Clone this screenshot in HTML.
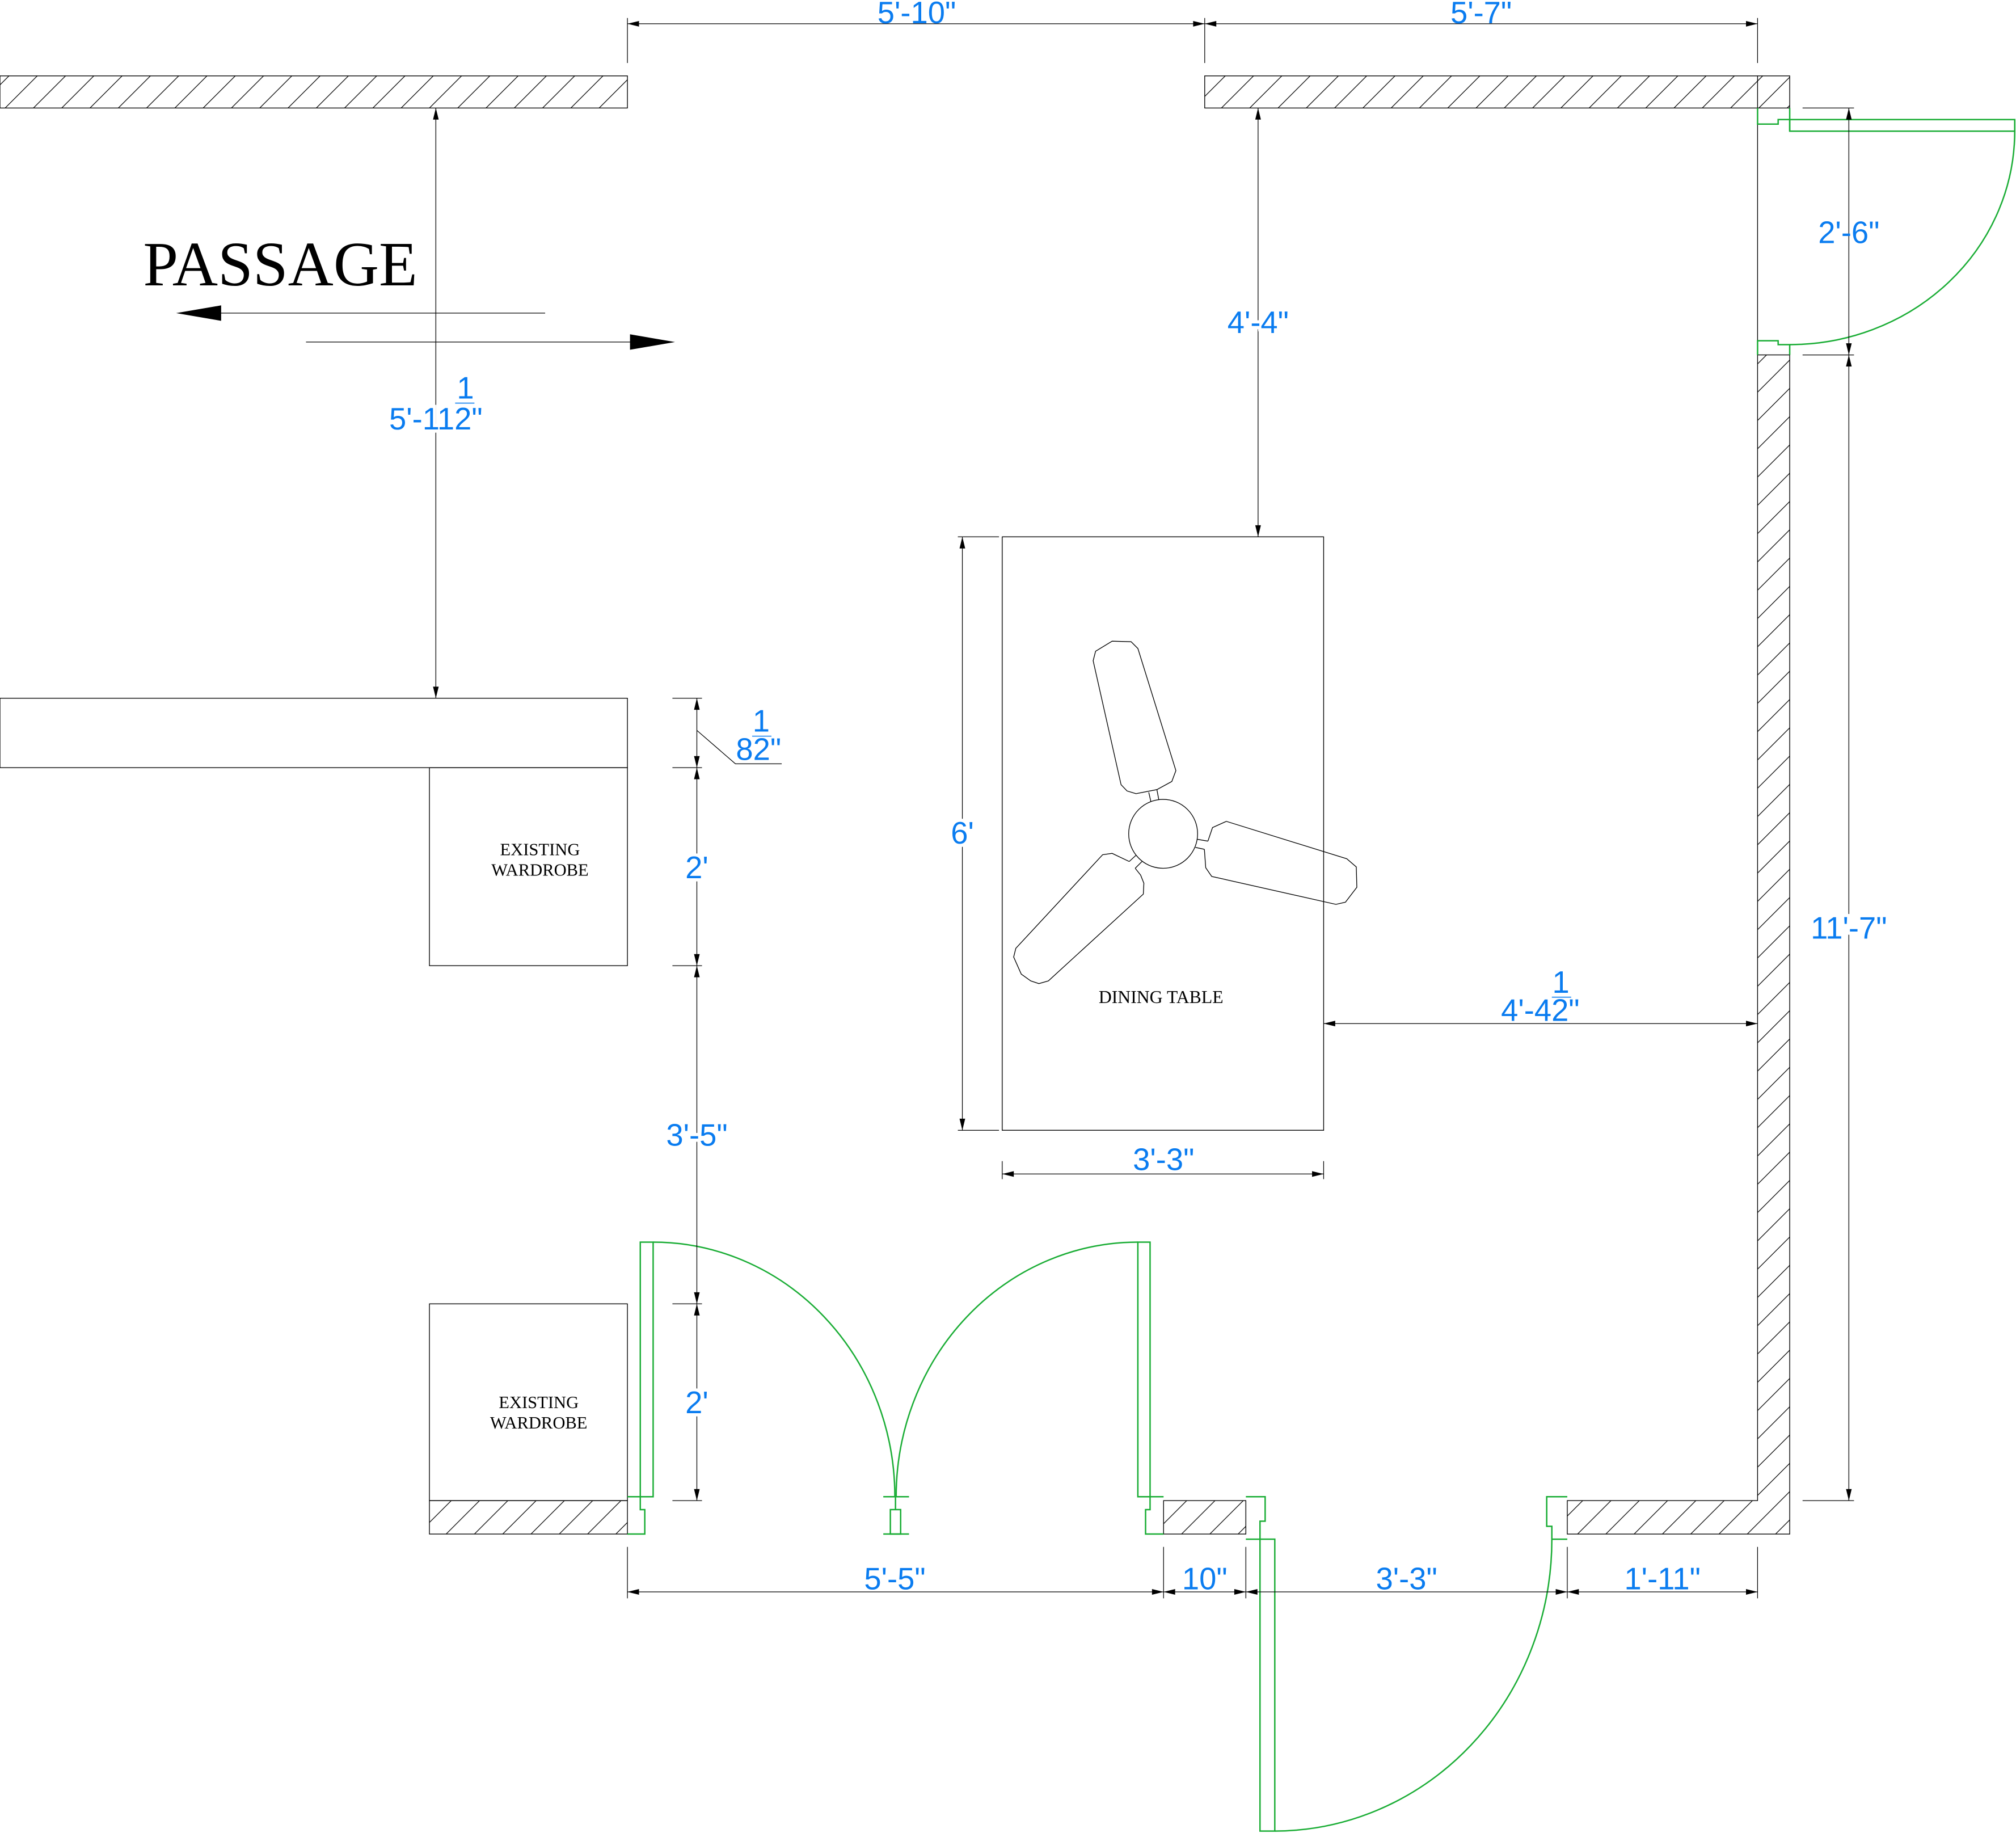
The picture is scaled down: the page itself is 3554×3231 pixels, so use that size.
<!DOCTYPE html>
<html><head><meta charset="utf-8">
<style>
html,body{margin:0;padding:0;background:#fff;}
svg{display:block;}
.k{stroke:#000;stroke-width:0.6;fill:none;}
.hh{fill:url(#h);}
.g{stroke:#1aad35;stroke-width:1.1;fill:none;}
.d{stroke:#000;stroke-width:0.55;fill:none;}
.t{font-family:"Liberation Sans",Arial,sans-serif;font-size:24px;fill:#0a7cf0;text-anchor:middle;stroke:#fff;stroke-width:5;paint-order:stroke;}
.s{font-family:"Liberation Serif","Times New Roman",serif;fill:#000;text-anchor:middle;}
</style></head>
<body>
<svg width="3554" height="3231" viewBox="0 0 1568 1425.5" preserveAspectRatio="none" xmlns="http://www.w3.org/2000/svg">
<defs>
<pattern id="h" patternUnits="userSpaceOnUse" width="22" height="22">
<path d="M-2,24 L24,-2 M-2,2 L2,-2 M20,24 L24,20" stroke="#000" stroke-width="0.55"/>
</pattern>
<marker id="a" markerUnits="userSpaceOnUse" markerWidth="12" markerHeight="8" refX="0" refY="0" viewBox="-10 -4 12 8" orient="auto-start-reverse">
<path d="M0,0 L-9,-2.2 L-9,2.2 Z" fill="#000"/>
</marker>
</defs>
<rect width="1568" height="1425.5" fill="#fff"/>

<!-- walls -->
<rect x="0" y="59" width="488" height="25" class="k hh"/>
<rect x="937" y="59" width="455" height="25" class="k hh"/>
<line x1="1367" y1="59" x2="1367" y2="84" class="k"/>
<line x1="1367" y1="84" x2="1367" y2="276" class="k"/>
<path d="M1367,276 L1392,276 L1392,1193 L1219,1193 L1219,1167 L1367,1167 Z" class="k hh"/>
<rect x="905" y="1167" width="64" height="26" class="k hh"/>
<rect x="334" y="1167" width="154" height="26" class="k hh"/>

<!-- furniture -->
<rect x="0" y="543" width="488" height="54" class="k"/>
<rect x="334" y="597" width="154" height="154" class="k"/>
<rect x="334" y="1014" width="154" height="153" class="k"/>
<rect x="779.5" y="417.5" width="250" height="461.5" class="k"/>
<text class="s" x="420" y="665" font-size="13.5">EXISTING</text>
<text class="s" x="420" y="681" font-size="13.5">WARDROBE</text>
<text class="s" x="419" y="1095" font-size="13.5">EXISTING</text>
<text class="s" x="419" y="1111" font-size="13.5">WARDROBE</text>
<text class="s" x="903" y="780" font-size="14">DINING TABLE</text>

<!-- fan -->
<g transform="matrix(0.211,0,0,0.211,750,463.2)" fill="none" stroke="#000" stroke-width="2.8">
<circle cx="733" cy="878" r="127"/>
<path d="M484,205 L545,168 L615,170 L640,195 L780,645 L765,685 L710,715 L633,730 L600,720 L578,697 L475,240 Z"/>
<path d="M680,725 L688,760 M710,715 L717,752"/>
<path d="M898,905 L915,855 L966,832 L1410,970 L1445,1000 L1447,1075 L1405,1130 L1370,1138 L912,1035 L890,1003 L885,935"/>
<path d="M858,898 L898,905 M852,928 L885,935"/>
<path d="M608,980 L545,950 L510,955 L190,1300 L182,1332 L210,1395 L245,1420 L275,1430 L310,1420 L660,1100 L662,1060 L650,1030 L630,1005"/>
<path d="M608,980 L633,957 M630,1005 L655,980"/>
</g>

<!-- PASSAGE -->
<text class="s" x="218" y="222" font-size="49">PASSAGE</text>
<line x1="170" y1="243.5" x2="424" y2="243.5" class="d"/>
<path d="M137,243.5 L172,237.5 L172,249.5 Z" fill="#000"/>
<line x1="238" y1="266" x2="492" y2="266" class="d"/>
<path d="M525,266 L490,260 L490,272 Z" fill="#000"/>

<!-- doors -->
<g class="g">
<path d="M1367,84 L1367,96.5 L1383,96.5 L1383,93 L1392,93 M1392,84 L1392,102"/>
<rect x="1392" y="93" width="175" height="9"/>
<path d="M1567,102 A175,166 0 0 1 1392,268"/>
<path d="M1367,276 L1367,265 L1383,265 L1383,268 L1392,268 L1392,276"/>
<rect x="498" y="966" width="10" height="198"/>
<path d="M488,1164 L508,1164 M488,1193 L501.5,1193 L501.5,1174 L498,1174 L498,1164"/>
<path d="M508,966 A188,198 0 0 1 696,1164"/>
<rect x="885" y="966" width="9.5" height="198"/>
<path d="M885,1164 L905,1164 M905,1193 L891,1193 L891,1174 L894.5,1174 L894.5,1164"/>
<path d="M885,966 A188,198 0 0 0 697,1164"/>
<path d="M687,1164 L707,1164 M687,1193 L707,1193 M696.5,1164 L696.5,1174"/>
<rect x="692.5" y="1174" width="8" height="19"/>
<path d="M969,1164 L984,1164 L984,1183 L980,1183 L980,1197 M969,1197 L980,1197"/>
<rect x="980" y="1197" width="11.5" height="227"/>
<path d="M991.5,1424 A216,227 0 0 0 1207,1197"/>
<path d="M1219,1164 L1203,1164 L1203,1187 L1207,1187 L1207,1197 L1219,1197"/>
</g>

<!-- dimensions -->
<g class="d">
<line x1="488" y1="14" x2="488" y2="49"/>
<line x1="937" y1="14" x2="937" y2="49"/>
<line x1="1367" y1="14" x2="1367" y2="49"/>
<line x1="488" y1="18.5" x2="937" y2="18.5" marker-start="url(#a)" marker-end="url(#a)"/>
<line x1="937" y1="18.5" x2="1367" y2="18.5" marker-start="url(#a)" marker-end="url(#a)"/>
<line x1="339" y1="84" x2="339" y2="543" marker-start="url(#a)" marker-end="url(#a)"/>
<line x1="978.5" y1="84" x2="978.5" y2="417.5" marker-start="url(#a)" marker-end="url(#a)"/>
<line x1="1402" y1="84" x2="1442" y2="84"/>
<line x1="1402" y1="276" x2="1442" y2="276"/>
<line x1="1402" y1="1167" x2="1442" y2="1167"/>
<line x1="1438" y1="84" x2="1438" y2="276" marker-start="url(#a)" marker-end="url(#a)"/>
<line x1="1438" y1="276" x2="1438" y2="1167" marker-start="url(#a)" marker-end="url(#a)"/>
<line x1="523" y1="543" x2="546" y2="543"/>
<line x1="523" y1="597" x2="546" y2="597"/>
<line x1="523" y1="751" x2="546" y2="751"/>
<line x1="523" y1="1014" x2="546" y2="1014"/>
<line x1="523" y1="1167" x2="546" y2="1167"/>
<line x1="542" y1="543" x2="542" y2="597" marker-start="url(#a)" marker-end="url(#a)"/>
<line x1="542" y1="597" x2="542" y2="751" marker-start="url(#a)" marker-end="url(#a)"/>
<line x1="542" y1="751" x2="542" y2="1014" marker-start="url(#a)" marker-end="url(#a)"/>
<line x1="542" y1="1014" x2="542" y2="1167" marker-start="url(#a)" marker-end="url(#a)"/>
<path d="M542,568 L572,594 L608,594"/>
<line x1="745" y1="417.5" x2="777" y2="417.5"/>
<line x1="745" y1="879" x2="777" y2="879"/>
<line x1="748.5" y1="417.5" x2="748.5" y2="879" marker-start="url(#a)" marker-end="url(#a)"/>
<line x1="779.5" y1="903" x2="779.5" y2="917"/>
<line x1="1029.5" y1="903" x2="1029.5" y2="917"/>
<line x1="779.5" y1="913" x2="1029.5" y2="913" marker-start="url(#a)" marker-end="url(#a)"/>
<line x1="1029.5" y1="796" x2="1367" y2="796" marker-start="url(#a)" marker-end="url(#a)"/>
<line x1="488" y1="1203" x2="488" y2="1243"/>
<line x1="905" y1="1203" x2="905" y2="1243"/>
<line x1="969" y1="1203" x2="969" y2="1243"/>
<line x1="1219" y1="1203" x2="1219" y2="1243"/>
<line x1="1367" y1="1203" x2="1367" y2="1243"/>
<line x1="488" y1="1238" x2="905" y2="1238" marker-start="url(#a)" marker-end="url(#a)"/>
<line x1="905" y1="1238" x2="969" y2="1238" marker-start="url(#a)" marker-end="url(#a)"/>
<line x1="969" y1="1238" x2="1219" y2="1238" marker-start="url(#a)" marker-end="url(#a)"/>
<line x1="1219" y1="1238" x2="1367" y2="1238" marker-start="url(#a)" marker-end="url(#a)"/>
</g>

<!-- dimension text -->
<text class="t" x="713" y="18" style="stroke:none">5'-10"</text>
<text class="t" x="1152" y="18" style="stroke:none">5'-7"</text>
<text class="t" x="339" y="334">5'-112"</text>
<text class="t" x="362" y="310" style="stroke:none">1</text>
<line x1="354" y1="313.5" x2="369" y2="313.5" stroke="#0a7cf0" stroke-width="0.7"/>
<text class="t" x="978.5" y="259">4'-4"</text>
<text class="t" x="1438" y="189" style="stroke:none">2'-6"</text>
<text class="t" x="1438" y="730">11'-7"</text>
<text class="t" x="590" y="591" style="stroke:none">82"</text>
<text class="t" x="592" y="569" style="stroke:none">1</text>
<line x1="585" y1="572.5" x2="600" y2="572.5" stroke="#0a7cf0" stroke-width="0.7"/>
<text class="t" x="542" y="683">2'</text>
<text class="t" x="542" y="891">3'-5"</text>
<text class="t" x="542" y="1099">2'</text>
<text class="t" x="748.5" y="656">6'</text>
<text class="t" x="905" y="910" style="stroke:none">3'-3"</text>
<text class="t" x="1198" y="794" style="stroke:none">4'-42"</text>
<text class="t" x="1214" y="772" style="stroke:none">1</text>
<line x1="1207" y1="775.5" x2="1222" y2="775.5" stroke="#0a7cf0" stroke-width="0.7"/>
<text class="t" x="696" y="1236" style="stroke:none">5'-5"</text>
<text class="t" x="937" y="1236" style="stroke:none">10"</text>
<text class="t" x="1094" y="1236" style="stroke:none">3'-3"</text>
<text class="t" x="1293" y="1236" style="stroke:none">1'-11"</text>
</svg>
</body></html>
